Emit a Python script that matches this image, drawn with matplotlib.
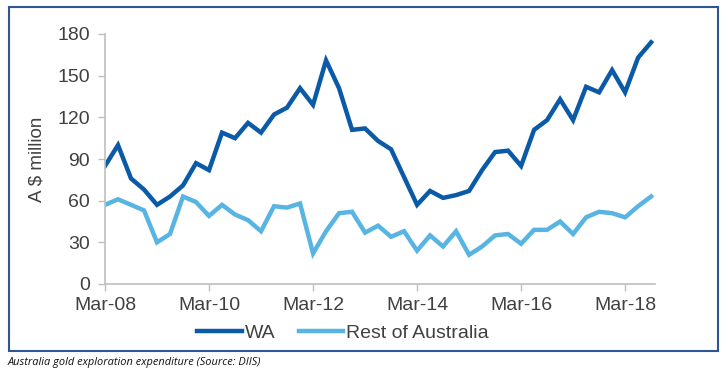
import matplotlib
matplotlib.use("Agg")
from matplotlib import pyplot as plt
from matplotlib.patches import Rectangle
import numpy as np

# quarterly, Mar-08 .. Sep-18
wa = [85, 100, 76, 68, 57, 63, 71, 87, 82, 109, 105, 116, 109, 122, 127, 141,
      129, 161, 141, 111, 112, 103, 97, 77, 57, 67, 62, 64, 67, 82, 95, 96,
      85, 111, 118, 133, 118, 142, 138, 154, 138, 163, 174]
rest = [57, 61, 57, 53, 30, 36, 63, 59, 49, 57, 50, 46, 38, 56, 55, 58,
        22, 38, 51, 52, 37, 42, 34, 38, 24, 35, 27, 38, 21, 27, 35, 36,
        29, 39, 39, 45, 36, 48, 52, 51, 48, 56, 63]
tick_labels = ["Mar-08", "Mar-10", "Mar-12", "Mar-14", "Mar-16", "Mar-18"]
yticks = [0, 30, 60, 90, 120, 150, 180]

plt.rcParams['font.family'] = ['Liberation Sans', 'DejaVu Sans']
txt = '#404040'

fig = plt.figure(figsize=(7.25, 3.72), dpi=100)
ax = fig.add_axes([105/725, 1-284/372, 550/725, 250/372])

x = np.arange(len(wa))
ax.plot(x, wa, color='#0B5AA8', lw=3.2, solid_joinstyle='miter', label='WA')
ax.plot(x, rest, color='#57B4E3', lw=3.2, solid_joinstyle='miter', label='Rest of Australia')

ax.set_xlim(0, 42.3)
ax.set_ylim(0, 180)
ax.set_yticks(yticks)
ax.set_xticks(np.arange(0, 41, 8))
ax.set_xticklabels(tick_labels)
ax.tick_params(colors='#bfbfbf', labelcolor=txt, labelsize=14, length=5, width=1)
ax.tick_params(axis='x', pad=4)
ax.tick_params(axis='y', pad=6)
for s in ['top', 'right']:
    ax.spines[s].set_visible(False)
for s in ['left', 'bottom']:
    ax.spines[s].set_color('#bfbfbf')
    ax.spines[s].set_linewidth(1.2)
ax.set_ylabel('A $ million', color=txt, fontsize=13.5, labelpad=8)

leg = fig.legend(loc='center', bbox_to_anchor=(343/725, 1-333/372), ncol=2, frameon=False,
                 fontsize=14, handlelength=2.3, handletextpad=0.15, columnspacing=1.2)
for t in leg.get_texts():
    t.set_color(txt)

# blue frame round the chart
fig.patches.append(Rectangle((9/725, 1-351/372), 709/725, 344/372, transform=fig.transFigure,
                             fill=False, edgecolor='#2F5597', lw=1.5))
fig.text(8/725, 1-363/372, 'Australia gold exploration expenditure (Source: DIIS)',
         fontsize=7.9, style='italic', family='Open Sans', va='center', color='#111111')

fig.savefig('out.png', dpi=100)
